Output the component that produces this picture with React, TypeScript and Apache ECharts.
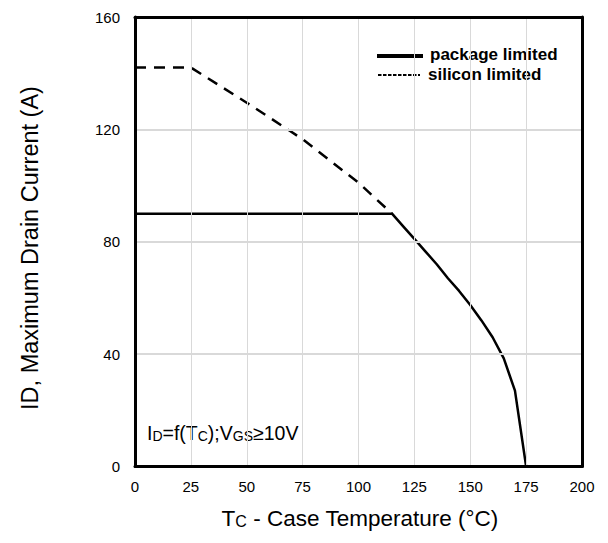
import React, { useEffect, useRef } from "react";
import * as echarts from "echarts";

const packageT = [0, 115, 120, 125, 130, 135, 140, 145, 150, 155, 160, 165, 170, 175];
const packageI = [90, 90, 85.5, 81, 76.5, 72, 67, 62.5, 57.5, 52, 46, 38.5, 27, 0];
const siliconT = [0, 25, 50, 75, 100, 115];
const siliconI = [142, 142, 129.5, 116.5, 101, 90];
const xTicks = { min: 0, max: 200, interval: 25 };
const yTicks = { min: 0, max: 160, interval: 40 };

const FONT = "Liberation Sans, Arial, sans-serif";
const BORDER = { show: true, lineStyle: { color: "#000", width: 3 } };

export default function App() {
  const ref = useRef<HTMLDivElement>(null);
  useEffect(() => {
    if (!ref.current) return;
    const chart = echarts.init(ref.current, undefined, { renderer: "svg" });
    const pkg = packageT.map((t, i) => [t, packageI[i]]);
    const sil = siliconT.map((t, i) => [t, siliconI[i]]);
    chart.setOption({
      animation: false,
      textStyle: { fontFamily: FONT },
      grid: { left: 127, right: 18, top: 9, bottom: 68.5 },
      xAxis: [
        {
          type: "value",
          ...xTicks,
          axisLine: { ...BORDER, onZero: false },
          axisTick: { show: false },
          splitLine: { show: true, lineStyle: { color: "#d9d9d9", width: 1 } },
          axisLabel: { color: "#000", fontSize: 15, fontFamily: FONT, margin: 12 },
          z: 5,
        },
        {
          type: "value",
          position: "top",
          ...xTicks,
          axisLine: { ...BORDER, onZero: false },
          axisTick: { show: false },
          splitLine: { show: false },
          axisLabel: { show: false },
          z: 5,
        },
      ],
      yAxis: [
        {
          type: "value",
          ...yTicks,
          axisLine: { ...BORDER, onZero: false },
          axisTick: { show: false },
          splitLine: { show: true, lineStyle: { color: "#d9d9d9", width: 2 } },
          axisLabel: { color: "#000", fontSize: 15, fontFamily: FONT, margin: 15 },
          z: 5,
        },
        {
          type: "value",
          position: "right",
          ...yTicks,
          axisLine: { ...BORDER, onZero: false },
          axisTick: { show: false },
          splitLine: { show: false },
          axisLabel: { show: false },
          z: 5,
        },
      ],
      series: [
        {
          name: "silicon limited",
          type: "line",
          data: sil,
          symbol: "none",
          lineStyle: { color: "#000", width: 2.5, type: [11, 8] },
          z: 2,
        },
        {
          name: "package limited",
          type: "line",
          data: pkg,
          symbol: "none",
          lineStyle: { color: "#000", width: 2.5 },
          z: 3,
        },
      ],
      graphic: [
        {
          type: "line",
          shape: { x1: 369, y1: 48, x2: 415, y2: 48 },
          style: { stroke: "#000", lineWidth: 4 },
        },
        {
          type: "text",
          x: 422,
          y: 46,
          style: {
            text: "package limited",
            font: `bold 17px ${FONT}`,
            fill: "#000",
            textVerticalAlign: "middle",
          },
        },
        {
          type: "line",
          shape: { x1: 370, y1: 67, x2: 412, y2: 67 },
          style: { stroke: "#000", lineWidth: 2, lineDash: [3.5, 1.5] },
        },
        {
          type: "text",
          x: 420,
          y: 66,
          style: {
            text: "silicon limited",
            font: `bold 17px ${FONT}`,
            fill: "#000",
            textVerticalAlign: "middle",
          },
        },
        {
          type: "text",
          x: 139,
          y: 425,
          style: {
            text: "{n|I}{s|D}{n|=f(T}{s|C}{n|);V}{s|GS}{n|≥10V}",
            rich: {
              n: { fontSize: 19.5, fontFamily: FONT, fill: "#000", verticalAlign: "bottom" },
              s: { fontSize: 14, fontFamily: FONT, fill: "#000", verticalAlign: "bottom" },
            },
            textVerticalAlign: "middle",
          },
        },
        {
          type: "text",
          x: 352,
          y: 510,
          style: {
            text: "{n|T}{s|C}{n| - Case Temperature (°C)}",
            rich: {
              n: { fontSize: 22.5, fontFamily: FONT, fill: "#000", verticalAlign: "bottom" },
              s: { fontSize: 16, fontFamily: FONT, fill: "#000", verticalAlign: "bottom" },
            },
            textAlign: "center",
            textVerticalAlign: "middle",
          },
        },
        {
          type: "text",
          x: 22,
          y: 240,
          rotation: Math.PI / 2,
          style: {
            text: "ID, Maximum Drain Current (A)",
            font: `23.5px ${FONT}`,
            fill: "#000",
            textAlign: "center",
            textVerticalAlign: "middle",
          },
        },
      ],
    });
    return () => chart.dispose();
  }, []);
  return <div ref={ref} style={{ width: 592, height: 527 }} />;
}
